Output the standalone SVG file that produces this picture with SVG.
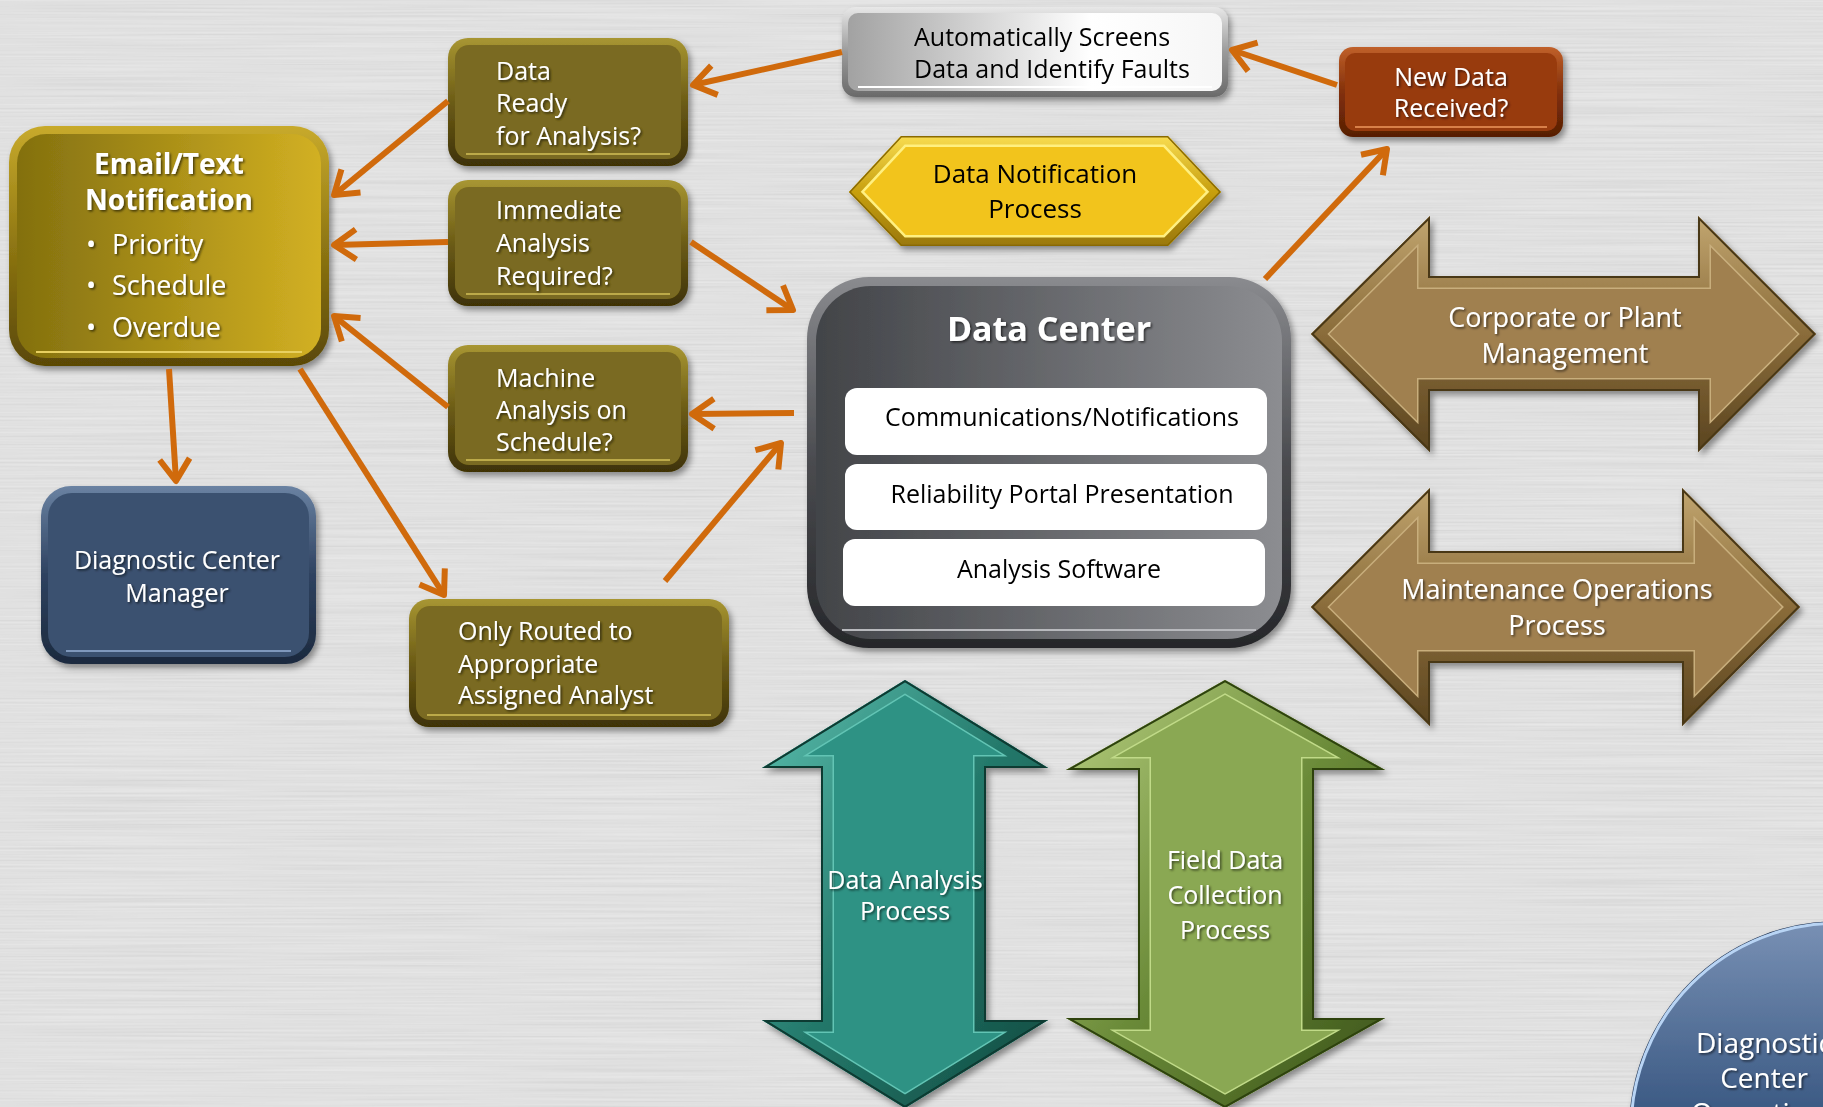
<svg xmlns="http://www.w3.org/2000/svg" xmlns:xlink="http://www.w3.org/1999/xlink" width="1823" height="1107" viewBox="0 0 1823 1107">
<style>
.t{font-family:"Open Sans","Liberation Sans",sans-serif;}
.w{fill:#ffffff;}
.k{fill:#000000;}
.s25{font-size:25px;}
.s27{font-size:27px;}
.s26{font-size:26px;}
.s28{font-size:28px;}
.b{font-weight:bold;}
.m{text-anchor:middle;}
.con{fill:none;stroke:#d06a0c;stroke-width:6;marker-end:url(#ah);}
</style>
<defs>
<filter id="brush" x="0" y="0" width="100%" height="100%">
<feTurbulence type="fractalNoise" baseFrequency="0.004 0.5" numOctaves="2" seed="4"/>
<feColorMatrix type="matrix" values="1 0 0 0 0  1 0 0 0 0  1 0 0 0 0  0 0 0 0 0.13"/>
</filter>
<filter id="sh" x="-10%" y="-10%" width="125%" height="130%">
<feDropShadow dx="3" dy="4" stdDeviation="3" flood-color="#000" flood-opacity="0.4"/>
</filter>
<filter id="ts" x="-5%" y="-20%" width="110%" height="150%">
<feDropShadow dx="1.5" dy="1.5" stdDeviation="1" flood-color="#000" flood-opacity="0.6"/>
</filter>
<marker id="ah" markerUnits="userSpaceOnUse" viewBox="-30 -20 36 40" markerWidth="36" markerHeight="40" refX="0" refY="0" orient="auto" overflow="visible">
<path d="M-22,-15 L0,0 L-22,15" fill="none" stroke="#d06a0c" stroke-width="6" stroke-linejoin="round"/>
</marker>
<linearGradient id="gOliveEdge" x1="0" y1="0" x2="0" y2="1">
<stop offset="0" stop-color="#a89632"/><stop offset="0.5" stop-color="#6c5c16"/><stop offset="1" stop-color="#3e3206"/>
</linearGradient>
<linearGradient id="gEmail" x1="0" y1="0" x2="1" y2="0">
<stop offset="0" stop-color="#83700f"/><stop offset="1" stop-color="#d2b022"/>
</linearGradient>
<linearGradient id="gEmailEdge" x1="0" y1="0" x2="0" y2="1">
<stop offset="0" stop-color="#c8aa2c"/><stop offset="0.5" stop-color="#8e7612"/><stop offset="1" stop-color="#5a4806"/>
</linearGradient>
<linearGradient id="gDC" x1="0" y1="0" x2="1" y2="0">
<stop offset="0" stop-color="#424448"/><stop offset="1" stop-color="#8c8d91"/>
</linearGradient>
<linearGradient id="gDCEdge" x1="0" y1="0" x2="0" y2="1">
<stop offset="0" stop-color="#8a8b8f"/><stop offset="0.5" stop-color="#4a4b4f"/><stop offset="1" stop-color="#26272a"/>
</linearGradient>
<linearGradient id="gAuto" x1="0" y1="0" x2="1" y2="0">
<stop offset="0" stop-color="#a2a2a2"/><stop offset="0.65" stop-color="#ffffff"/><stop offset="1" stop-color="#f6f6f6"/>
</linearGradient>
<linearGradient id="gAutoEdge" x1="0" y1="0" x2="0" y2="1">
<stop offset="0" stop-color="#e8e8e8"/><stop offset="0.5" stop-color="#9a9a9a"/><stop offset="1" stop-color="#6a6a6a"/>
</linearGradient>
<linearGradient id="gNewEdge" x1="0" y1="0" x2="0" y2="1">
<stop offset="0" stop-color="#c0602a"/><stop offset="0.5" stop-color="#82300a"/><stop offset="1" stop-color="#561e04"/>
</linearGradient>
<linearGradient id="gDCMEdge" x1="0" y1="0" x2="0" y2="1">
<stop offset="0" stop-color="#6a82a2"/><stop offset="0.5" stop-color="#2e4260"/><stop offset="1" stop-color="#1c2a3e"/>
</linearGradient>
<linearGradient id="gTan" x1="0" y1="0" x2="0" y2="1">
<stop offset="0" stop-color="#c2a670"/><stop offset="0.5" stop-color="#8a6c3a"/><stop offset="1" stop-color="#5a4420"/>
</linearGradient>
<linearGradient id="gTeal" x1="0" y1="0" x2="1" y2="1">
<stop offset="0" stop-color="#5cc0b0"/><stop offset="0.5" stop-color="#23786a"/><stop offset="1" stop-color="#124a40"/>
</linearGradient>
<linearGradient id="gGreen" x1="0" y1="0" x2="1" y2="1">
<stop offset="0" stop-color="#b8d080"/><stop offset="0.5" stop-color="#6a8a38"/><stop offset="1" stop-color="#3a5218"/>
</linearGradient>
<linearGradient id="gHex" x1="0" y1="0" x2="0" y2="1">
<stop offset="0" stop-color="#f8dc50"/><stop offset="0.5" stop-color="#c8a010"/><stop offset="1" stop-color="#9a7808"/>
</linearGradient>
<linearGradient id="gCircle" x1="0" y1="0" x2="0" y2="1">
<stop offset="0" stop-color="#7890b4"/><stop offset="0.45" stop-color="#3c5a84"/><stop offset="1" stop-color="#2a4670"/>
</linearGradient>
<polygon id="pCorp" points="1311,334 1430,216 1430,276 1698,276 1698,216 1816,334 1698,452 1698,391 1430,391 1430,452"/>
<polygon id="pMaint" points="1311,607 1430,488 1430,551 1682,551 1682,488 1800,607 1682,726 1682,663 1430,663 1430,726"/>
<polygon id="pTeal" points="905,680 1048,768 986,768 986,1020 1048,1020 905,1108 762,1020 821,1020 821,768 762,768"/>
<polygon id="pGreen" points="1225,680 1385,770 1314,770 1314,1018 1385,1018 1225,1108 1066,1018 1138,1018 1138,770 1066,770"/>
<polygon id="pHex" points="849,192 901,136 1168,136 1221,192 1168,246 901,246"/>
<clipPath id="cCorp"><use xlink:href="#pCorp"/></clipPath>
<clipPath id="cMaint"><use xlink:href="#pMaint"/></clipPath>
<clipPath id="cTeal"><use xlink:href="#pTeal"/></clipPath>
<clipPath id="cGreen"><use xlink:href="#pGreen"/></clipPath>
<clipPath id="cHex"><use xlink:href="#pHex"/></clipPath>
</defs>

<g id="background">
<rect x="0" y="0" width="1823" height="1107" fill="#e6e6e6"/>
<rect x="0" y="0" width="1823" height="1107" filter="url(#brush)"/>
</g>

<g id="n-corporate" filter="url(#sh)">
<use xlink:href="#pCorp" fill="#a08050"/>
<g clip-path="url(#cCorp)">
<use xlink:href="#pCorp" fill="none" stroke="#c8ae7c" stroke-width="26"/>
<use xlink:href="#pCorp" fill="none" stroke="url(#gTan)" stroke-width="23"/>
<use xlink:href="#pCorp" fill="none" stroke="#4a3818" stroke-width="4"/>
</g>
<g class="t w s27 m" filter="url(#ts)">
<text x="1565" y="327">Corporate or Plant</text>
<text x="1565" y="363">Management</text>
</g>
</g>

<g id="n-maintenance" filter="url(#sh)">
<use xlink:href="#pMaint" fill="#a08050"/>
<g clip-path="url(#cMaint)">
<use xlink:href="#pMaint" fill="none" stroke="#c8ae7c" stroke-width="26"/>
<use xlink:href="#pMaint" fill="none" stroke="url(#gTan)" stroke-width="23"/>
<use xlink:href="#pMaint" fill="none" stroke="#4a3818" stroke-width="4"/>
</g>
<g class="t w s27 m" filter="url(#ts)">
<text x="1557" y="599">Maintenance Operations</text>
<text x="1557" y="635">Process</text>
</g>
</g>

<g id="n-data-analysis" filter="url(#sh)">
<use xlink:href="#pTeal" fill="#2e9284"/>
<g clip-path="url(#cTeal)">
<use xlink:href="#pTeal" fill="none" stroke="#62c4b4" stroke-width="26"/>
<use xlink:href="#pTeal" fill="none" stroke="url(#gTeal)" stroke-width="23"/>
<use xlink:href="#pTeal" fill="none" stroke="#0e3a32" stroke-width="4"/>
</g>
<g class="t w s25 m" filter="url(#ts)">
<text x="905" y="889">Data Analysis</text>
<text x="905" y="920">Process</text>
</g>
</g>

<g id="n-field-data" filter="url(#sh)">
<use xlink:href="#pGreen" fill="#8aa852"/>
<g clip-path="url(#cGreen)">
<use xlink:href="#pGreen" fill="none" stroke="#c0da88" stroke-width="26"/>
<use xlink:href="#pGreen" fill="none" stroke="url(#gGreen)" stroke-width="23"/>
<use xlink:href="#pGreen" fill="none" stroke="#2e4210" stroke-width="4"/>
</g>
<g class="t w s25 m" filter="url(#ts)">
<text x="1225" y="869">Field Data</text>
<text x="1225" y="904">Collection</text>
<text x="1225" y="939">Process</text>
</g>
</g>

<g id="n-data-notification" filter="url(#sh)">
<use xlink:href="#pHex" fill="#f2c41e"/>
<g clip-path="url(#cHex)">
<use xlink:href="#pHex" fill="none" stroke="#fff080" stroke-width="22"/>
<use xlink:href="#pHex" fill="none" stroke="url(#gHex)" stroke-width="17"/>
<use xlink:href="#pHex" fill="none" stroke="#8a6a06" stroke-width="3"/>
</g>
<g class="t k s26 m">
<text x="1035" y="183">Data Notification</text>
<text x="1035" y="218">Process</text>
</g>
</g>

<g id="n-data-ready" filter="url(#sh)">
<rect x="448" y="38" width="240" height="128" rx="20" fill="url(#gOliveEdge)"/>
<rect x="455" y="45" width="226" height="114" rx="14" fill="#7a6a20"/>
<line x1="466" y1="154" x2="670" y2="154" stroke="#bcaa4a" stroke-width="2"/>
<g class="t w s25" filter="url(#ts)">
<text x="496" y="80">Data</text>
<text x="496" y="112">Ready</text>
<text x="496" y="145">for Analysis?</text>
</g>
</g>

<g id="n-immediate" filter="url(#sh)">
<rect x="448" y="180" width="240" height="126" rx="20" fill="url(#gOliveEdge)"/>
<rect x="455" y="187" width="226" height="112" rx="14" fill="#7a6a20"/>
<line x1="466" y1="294" x2="670" y2="294" stroke="#bcaa4a" stroke-width="2"/>
<g class="t w s25" filter="url(#ts)">
<text x="496" y="219">Immediate</text>
<text x="496" y="252">Analysis</text>
<text x="496" y="285">Required?</text>
</g>
</g>

<g id="n-machine" filter="url(#sh)">
<rect x="448" y="345" width="240" height="127" rx="20" fill="url(#gOliveEdge)"/>
<rect x="455" y="352" width="226" height="113" rx="14" fill="#7a6a20"/>
<line x1="466" y1="460" x2="670" y2="460" stroke="#bcaa4a" stroke-width="2"/>
<g class="t w s25" filter="url(#ts)">
<text x="496" y="387">Machine</text>
<text x="496" y="419">Analysis on</text>
<text x="496" y="451">Schedule?</text>
</g>
</g>

<g id="n-only-routed" filter="url(#sh)">
<rect x="409" y="599" width="320" height="128" rx="20" fill="url(#gOliveEdge)"/>
<rect x="416" y="606" width="306" height="114" rx="14" fill="#7a6a20"/>
<line x1="427" y1="715" x2="711" y2="715" stroke="#bcaa4a" stroke-width="2"/>
<g class="t w s25" filter="url(#ts)">
<text x="458" y="640">Only Routed to</text>
<text x="458" y="673">Appropriate</text>
<text x="458" y="704">Assigned Analyst</text>
</g>
</g>

<g id="n-email" filter="url(#sh)">
<rect x="9" y="126" width="320" height="240" rx="36" fill="url(#gEmailEdge)"/>
<rect x="17" y="134" width="304" height="224" rx="29" fill="url(#gEmail)"/>
<line x1="36" y1="352" x2="302" y2="352" stroke="#e8d060" stroke-width="2"/>
<g class="t w" filter="url(#ts)">
<text class="s28 b m" x="169" y="174">Email/Text</text>
<text class="s28 b m" x="169" y="210">Notification</text>
<text class="s27" x="86" y="254">•</text>
<text class="s27" x="112" y="254">Priority</text>
<text class="s27" x="86" y="295">•</text>
<text class="s27" x="112" y="295">Schedule</text>
<text class="s27" x="86" y="337">•</text>
<text class="s27" x="112" y="337">Overdue</text>
</g>
</g>

<g id="n-diag-manager" filter="url(#sh)">
<rect x="41" y="486" width="275" height="178" rx="30" fill="url(#gDCMEdge)"/>
<rect x="48" y="493" width="261" height="164" rx="24" fill="#3b5170"/>
<line x1="66" y1="651" x2="291" y2="651" stroke="#7f98bc" stroke-width="2"/>
<g class="t w s25 m" filter="url(#ts)">
<text x="177" y="569">Diagnostic Center</text>
<text x="177" y="602">Manager</text>
</g>
</g>

<g id="n-auto-screens" filter="url(#sh)">
<rect x="842" y="7" width="386" height="90" rx="14" fill="url(#gAutoEdge)"/>
<rect x="848" y="13" width="374" height="78" rx="10" fill="url(#gAuto)"/>
<line x1="858" y1="87" x2="1212" y2="87" stroke="#ffffff" stroke-width="2"/>
<g class="t k s25">
<text x="914" y="46">Automatically Screens</text>
<text x="914" y="78">Data and Identify Faults</text>
</g>
</g>

<g id="n-new-data" filter="url(#sh)">
<rect x="1339" y="47" width="224" height="90" rx="14" fill="url(#gNewEdge)"/>
<rect x="1345" y="53" width="212" height="78" rx="10" fill="#983a0e"/>
<line x1="1355" y1="127" x2="1547" y2="127" stroke="#d8804a" stroke-width="2"/>
<g class="t w s25 m" filter="url(#ts)">
<text x="1451" y="86">New Data</text>
<text x="1451" y="117">Received?</text>
</g>
</g>

<g id="n-data-center" filter="url(#sh)">
<rect x="807" y="277" width="484" height="371" rx="62" fill="url(#gDCEdge)"/>
<rect x="816" y="286" width="466" height="353" rx="55" fill="url(#gDC)"/>
<path d="M842,630 L1256,630" stroke="#b8b9bd" stroke-width="2"/>
<text class="t w b m" style="font-size:34px" x="1049" y="341" filter="url(#ts)">Data Center</text>
<rect x="845" y="388" width="422" height="67" rx="12" fill="#ffffff"/>
<rect x="845" y="464" width="422" height="66" rx="12" fill="#ffffff"/>
<rect x="843" y="539" width="422" height="67" rx="12" fill="#ffffff"/>
<g class="t k s25 m">
<text x="1062" y="426">Communications/Notifications</text>
<text x="1062" y="503">Reliability Portal Presentation</text>
<text x="1059" y="578">Analysis Software</text>
</g>
</g>

<g id="n-diag-operations" filter="url(#sh)">
<circle cx="1838" cy="1130" r="209" fill="#1c3050"/>
<circle cx="1838" cy="1130" r="207" fill="url(#gCircle)" stroke="#b8d4f4" stroke-width="3"/>
<g class="t w s28 m" filter="url(#ts)">
<text x="1764" y="1053">Diagnostic</text>
<text x="1764" y="1088">Center</text>
<text x="1764" y="1123">Operations</text>
</g>
</g>

<g id="connectors">
<line class="con" x1="842" y1="52" x2="693" y2="85"/>
<line class="con" x1="1337" y1="85" x2="1232" y2="50"/>
<line class="con" x1="1265" y1="279" x2="1387" y2="149"/>
<line class="con" x1="448" y1="101" x2="334" y2="195"/>
<line class="con" x1="448" y1="242" x2="334" y2="245"/>
<line class="con" x1="448" y1="407" x2="334" y2="316"/>
<line class="con" x1="691" y1="242" x2="793" y2="310"/>
<line class="con" x1="794" y1="413" x2="692" y2="414"/>
<line class="con" x1="665" y1="581" x2="781" y2="443"/>
<line class="con" x1="169" y1="369" x2="176" y2="481"/>
<line class="con" x1="300" y1="369" x2="444" y2="595"/>
</g>
</svg>
